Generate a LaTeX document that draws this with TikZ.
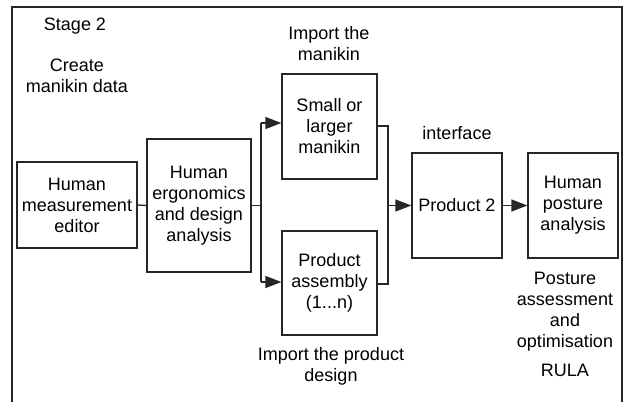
\documentclass[tikz,border=0pt]{standalone}
\usepackage{fontspec}
\setmainfont{Liberation Sans}
\usetikzlibrary{arrows.meta}
\begin{document}
\begin{tikzpicture}[x=1pt,y=-1pt,
  every node/.style={font=\fontsize{18}{21}\selectfont, text=black, align=center},
  box/.style={draw=black!85, line width=1.3pt, inner sep=0pt},
  lbl/.style={inner sep=0pt},
  conn/.style={draw=black!85, line width=1.3pt},
  arr/.style={conn, -{Triangle[length=16pt,width=12pt]}}]
\useasboundingbox (0,0) rectangle (624,402);
\draw[conn] (12,402) -- (12,7) -- (622,7) -- (622,402);

\node[box, minimum width=120pt, minimum height=86pt] (b1) at (77,205) {Human\\measurement\\editor};
\node[box, minimum width=104pt, minimum height=133pt] (b2) at (199,205.5) {Human\\ergonomics\\and design\\analysis};
\node[box, minimum width=95pt, minimum height=105pt] (b3) at (329.5,126.5) {Small or\\larger\\manikin};
\node[box, minimum width=95pt, minimum height=104pt] (b4) at (329.5,283) {Product\\assembly\\(1...n)};
\node[box, minimum width=90pt, minimum height=105pt] (b5) at (457,205.5) {Product 2};
\node[box, minimum width=90pt, minimum height=105pt] (b6) at (573,205.5) {Human\\posture\\analysis};

\node[lbl] (stage) at (75,26) {Stage 2};
\node[lbl] (create) at (77,75.5) {Create\\manikin data};
\node[lbl] (impm) at (329,44) {Import the\\manikin};
\node[lbl] (intf) at (457,133) {interface};
\node[lbl] (impp) at (331,366.5) {Import the product\\design};
\node[lbl] (post) at (565,312) {Posture\\assessment\\and\\optimisation};
\node[lbl] (rula) at (565,370) {RULA};

\coordinate (sp) at (261,205.5);
\coordinate (spt) at (261,123);
\coordinate (spb) at (261,282);
\coordinate (jt) at (388,126);
\coordinate (jb) at (388,284);
\coordinate (jm) at (388,205.5);

\draw[conn] (b1.east) -- (b2.west);
\draw[conn] (b2.east) -- (sp);
\draw[conn] (spt) -- (spb);
\draw[arr] (spt) -- (spt -| b3.west);
\draw[arr] (spb) -- (spb -| b4.west);
\draw[conn] (jt -| b3.east) -- (jt) -- (jb) -- (jb -| b4.east);
\draw[arr] (jm) -- (b5.west);
\draw[arr] (b5.east) -- (b6.west);
\end{tikzpicture}
\end{document}
